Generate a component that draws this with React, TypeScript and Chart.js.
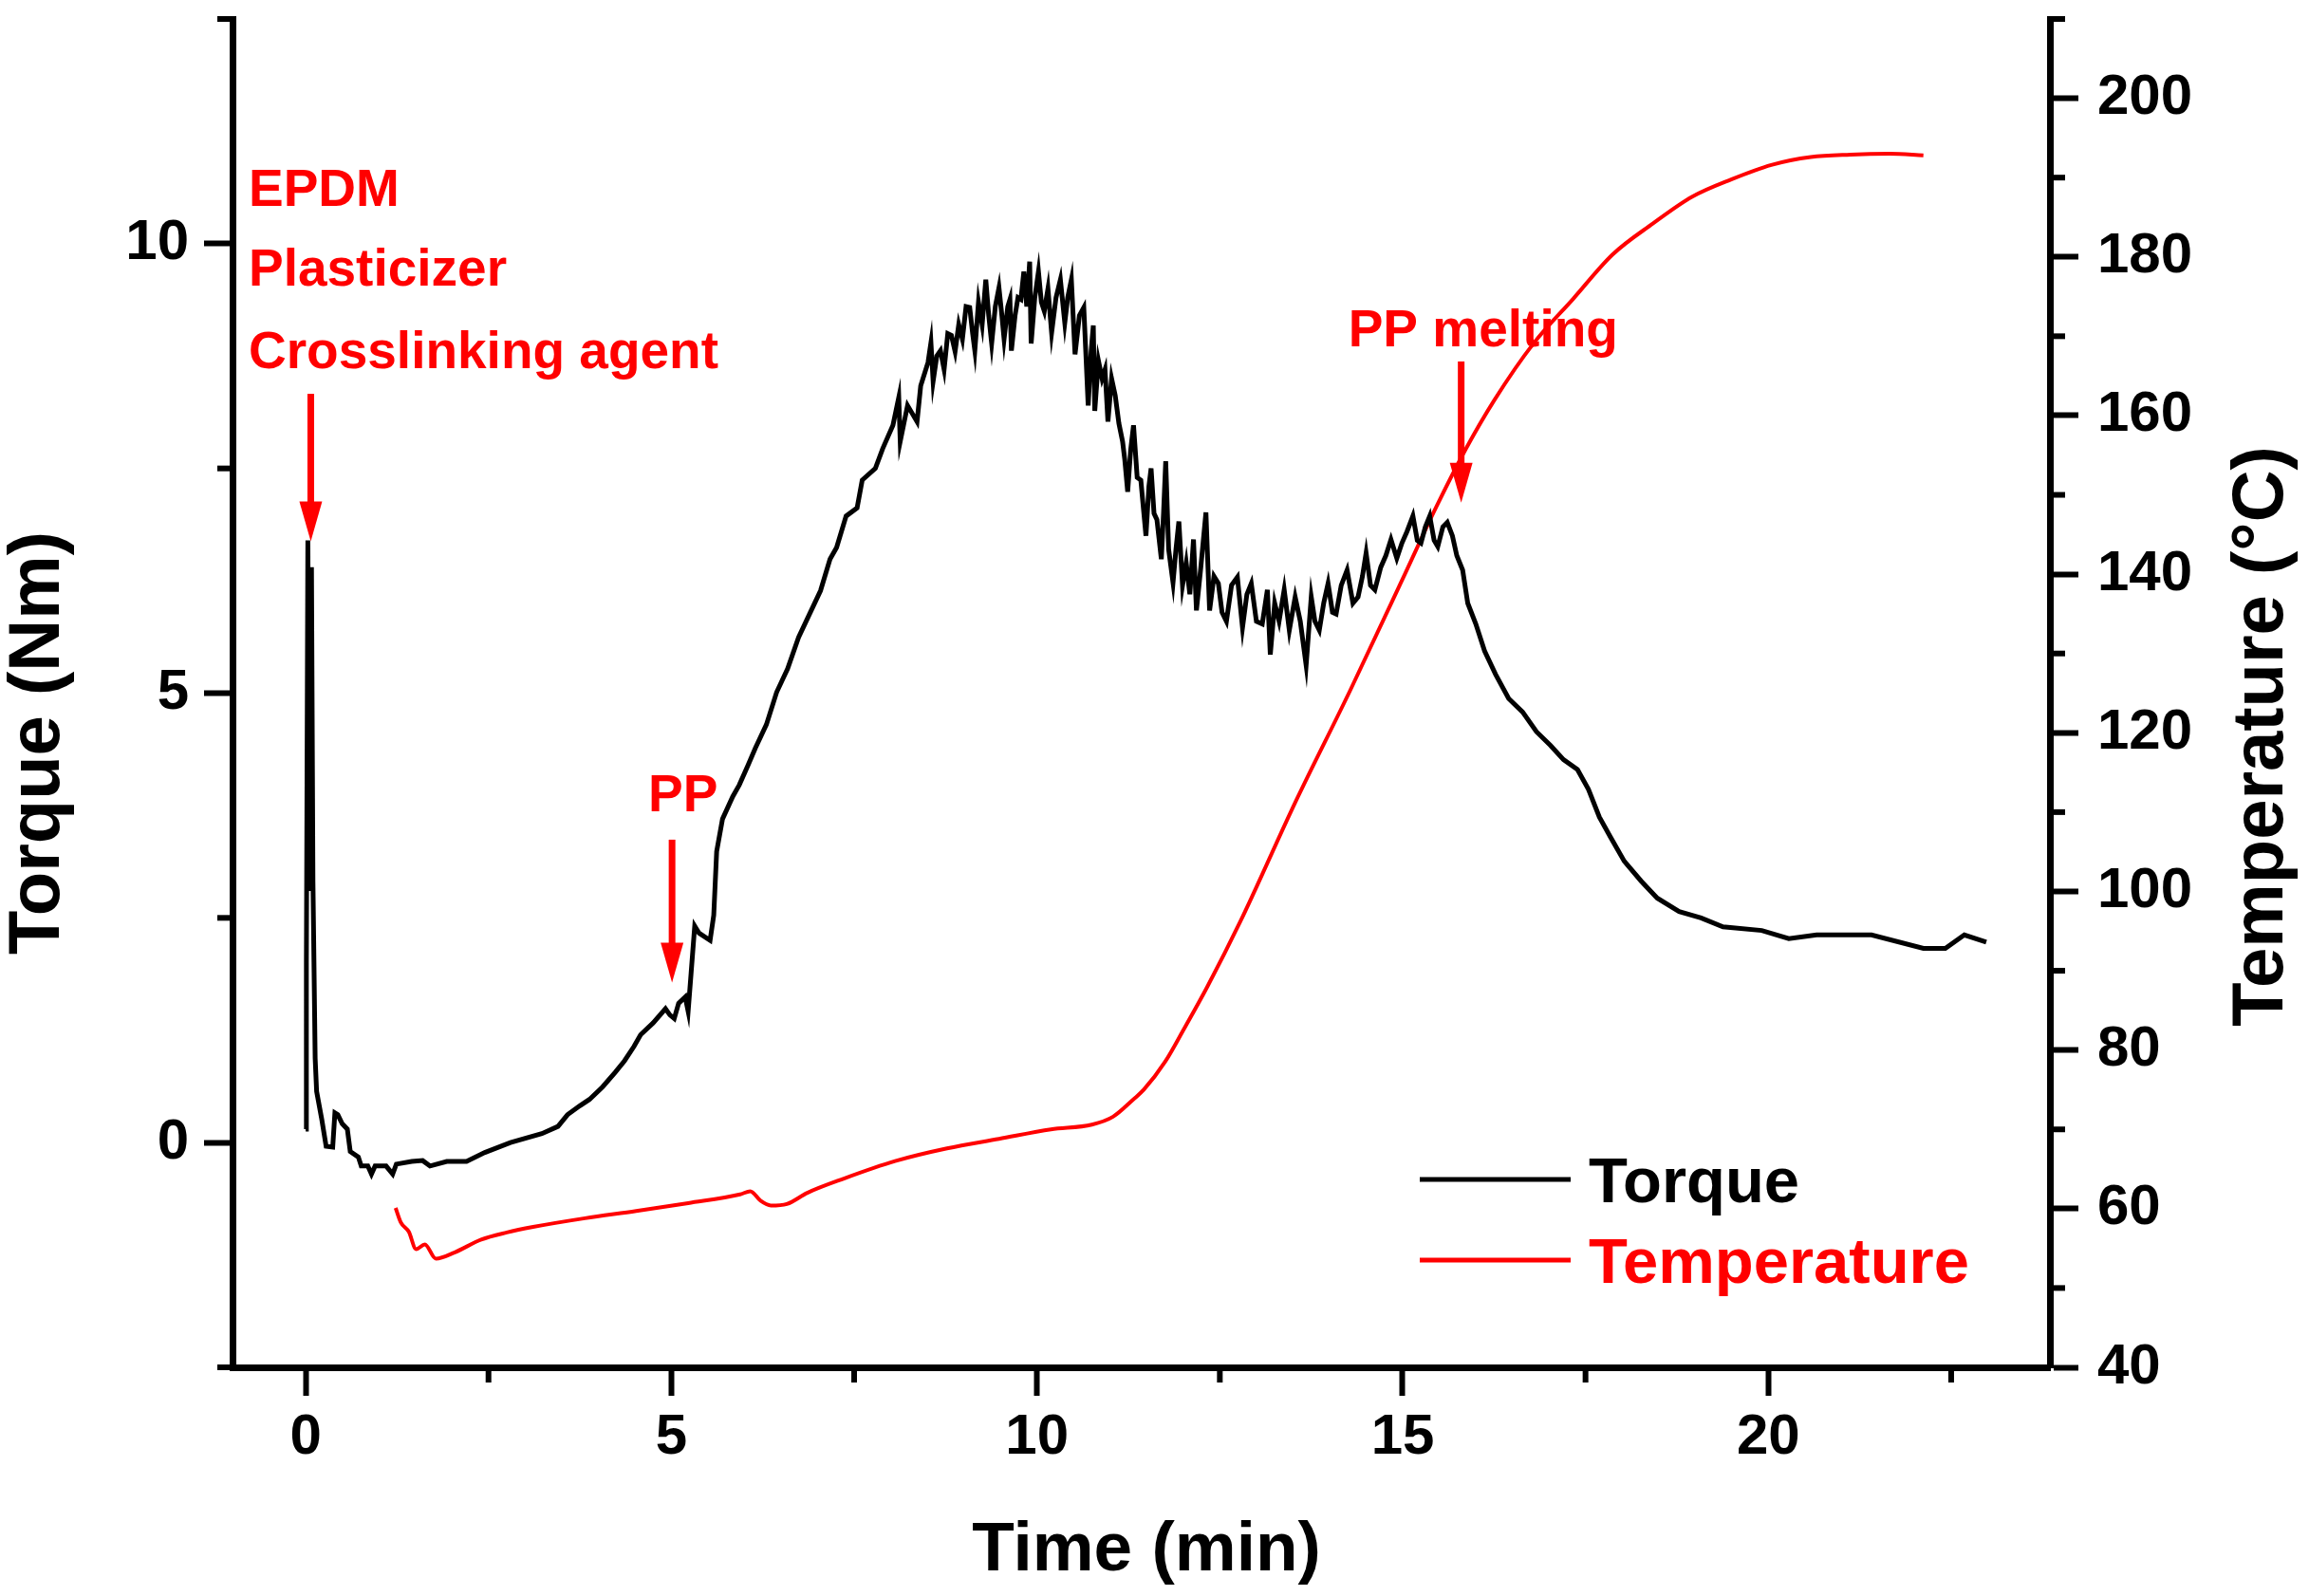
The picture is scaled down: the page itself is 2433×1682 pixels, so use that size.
import React, { useEffect, useRef } from "react";
import { Chart, registerables } from "chart.js";

Chart.register(...registerables);

// ---- data ----
const torqueTime = [
  0.0, 0.01, 0.03, 0.06, 0.08, 0.1, 0.13, 0.15, 0.22, 0.28,
  0.37, 0.4, 0.44, 0.5, 0.57, 0.61, 0.72, 0.76, 0.85, 0.9,
  0.95, 1.1, 1.19, 1.24, 1.45, 1.6, 1.7, 1.93, 2.2, 2.45,
  2.8, 3.23, 3.45, 3.58, 3.75, 3.88, 4.06, 4.23, 4.36, 4.49,
  4.58, 4.75, 4.92, 4.98, 5.04, 5.1, 5.19, 5.23, 5.27, 5.32,
  5.38, 5.53, 5.58, 5.62, 5.7, 5.84, 5.93, 6.05, 6.15, 6.3,
  6.44, 6.59, 6.74, 6.89, 7.04, 7.17, 7.26, 7.39, 7.54, 7.61,
  7.79, 7.89, 8.03, 8.11, 8.13, 8.23, 8.36, 8.41, 8.51, 8.55,
  8.58, 8.63, 8.68, 8.73, 8.78, 8.83, 8.88, 8.93, 8.98, 9.03,
  9.08, 9.12, 9.15, 9.2, 9.25, 9.3, 9.34, 9.38, 9.43, 9.48,
  9.52, 9.55, 9.6, 9.63, 9.65, 9.7, 9.74, 9.78, 9.82, 9.86,
  9.9, 9.92, 9.97, 10.02, 10.06, 10.1, 10.15, 10.2, 10.26, 10.32,
  10.38, 10.42, 10.47, 10.52, 10.58, 10.64, 10.7, 10.74, 10.77, 10.79,
  10.84, 10.89, 10.93, 10.97, 11.02, 11.07, 11.12, 11.17, 11.2, 11.24,
  11.28, 11.32, 11.37, 11.42, 11.45, 11.49, 11.53, 11.56, 11.6, 11.64,
  11.7, 11.73, 11.76, 11.8, 11.86, 11.9, 11.94, 11.99, 12.04, 12.09,
  12.14, 12.18, 12.24, 12.31, 12.36, 12.42, 12.48, 12.53, 12.59, 12.66,
  12.74, 12.81, 12.87, 12.93, 13.0, 13.08, 13.15, 13.19, 13.25, 13.31,
  13.38, 13.45, 13.53, 13.6, 13.68, 13.75, 13.8, 13.86, 13.92, 13.98,
  14.04, 14.09, 14.16, 14.24, 14.32, 14.39, 14.45, 14.5, 14.56, 14.62,
  14.7, 14.77, 14.84, 14.92, 14.99, 15.06, 15.14, 15.2, 15.25, 15.31,
  15.37, 15.43, 15.48, 15.55, 15.61, 15.68, 15.74, 15.82, 15.89, 16.0,
  16.12, 16.27, 16.45, 16.64, 16.83, 17.02, 17.2, 17.39, 17.54, 17.69,
  17.84, 18.03, 18.26, 18.48, 18.78, 19.08, 19.38, 19.91, 20.28, 20.66,
  21.41, 22.12, 22.42, 22.68, 22.98,
];
const torqueNm = [
  0.15, 2.0, 6.7, 2.8, 6.4, 2.9, 0.94, 0.57, 0.26, -0.04,
  -0.05, 0.33, 0.31, 0.21, 0.15, -0.1, -0.16, -0.26, -0.26, -0.35,
  -0.26, -0.26, -0.35, -0.24, -0.21, -0.2, -0.26, -0.21, -0.21, -0.11,
  0.0, 0.1, 0.18, 0.31, 0.41, 0.48, 0.62, 0.78, 0.91, 1.07,
  1.2, 1.33, 1.49, 1.42, 1.38, 1.55, 1.62, 1.46, 1.88, 2.41,
  2.33, 2.25, 2.53, 3.24, 3.6, 3.85, 3.98, 4.2, 4.39, 4.65,
  5.01, 5.27, 5.62, 5.88, 6.14, 6.49, 6.62, 6.97, 7.06, 7.37,
  7.5, 7.72, 7.98, 8.29, 7.8, 8.2, 8.02, 8.42, 8.68, 8.9,
  8.47, 8.75, 8.81, 8.6, 9.0, 8.98, 8.8, 9.1, 8.94, 9.3,
  9.29, 9.0, 8.81, 9.35, 9.1, 9.6, 9.2, 8.89, 9.3, 9.51,
  9.2, 8.94, 9.3, 9.38, 8.81, 9.2, 9.4, 9.38, 9.69, 9.3,
  9.8, 8.89, 9.4, 9.69, 9.35, 9.25, 9.5, 9.01, 9.4, 9.6,
  9.12, 9.4, 9.6, 8.77, 9.2, 9.29, 8.2, 8.8, 9.09, 8.14,
  8.7, 8.5, 8.6, 8.02, 8.5, 8.31, 8.0, 7.8, 7.6, 7.24,
  7.7, 7.98, 7.4, 7.37, 7.1, 6.75, 7.3, 7.5, 7.0, 6.93,
  6.49, 7.0, 7.58, 6.6, 6.23, 6.6, 6.91, 6.2, 6.45, 6.1,
  6.71, 5.92, 6.4, 7.01, 5.92, 6.3, 6.22, 5.9, 5.8, 6.2,
  6.29, 5.73, 6.1, 6.22, 5.8, 5.77, 6.15, 5.43, 6.0, 5.8,
  6.15, 5.7, 6.07, 5.8, 5.31, 6.07, 5.8, 5.7, 6.0, 6.22,
  5.9, 5.88, 6.2, 6.37, 6.0, 6.07, 6.3, 6.56, 6.2, 6.15,
  6.4, 6.53, 6.71, 6.5, 6.67, 6.8, 6.97, 6.7, 6.67, 6.85,
  6.97, 6.7, 6.63, 6.85, 6.9, 6.75, 6.53, 6.37, 6.0, 5.77,
  5.47, 5.21, 4.94, 4.79, 4.57, 4.42, 4.26, 4.15, 3.93, 3.62,
  3.4, 3.13, 2.91, 2.72, 2.57, 2.5, 2.4, 2.36, 2.27, 2.31,
  2.31, 2.16, 2.16, 2.31, 2.23,
];

const tempTime = [
  1.23, 1.3, 1.41, 1.51, 1.63, 1.78, 2.04, 2.4, 2.75, 3.11,
  3.82, 4.52, 5.23, 5.94, 6.08, 6.22, 6.36, 6.58, 6.86, 7.36,
  8.06, 8.77, 9.48, 10.19, 10.75, 11.04, 11.32, 11.46, 11.75, 12.0,
  12.33, 12.78, 13.53, 14.28, 15.03, 15.46, 15.87, 16.25, 16.79, 17.33,
  17.87, 18.42, 18.96, 19.5, 20.04, 20.58, 21.12, 21.66, 22.12,
];
const tempC = [
  60.1, 58.3, 57.1, 54.9, 55.5, 53.7, 54.5, 56.1, 57.0, 57.7,
  58.8, 59.7, 60.7, 61.8, 62.2, 61.0, 60.4, 60.6, 62.0, 63.8,
  66.0, 67.6, 68.8, 70.0, 70.6, 71.6, 73.8, 75.0, 78.5, 82.5,
  88.0, 96.2, 111.2, 125.3, 140.0, 148.5, 155.9, 161.9, 169.1, 174.7,
  180.3, 184.2, 187.6, 189.8, 191.6, 192.6, 192.9, 193.0, 192.8,
];

// tick values
const timeTicks = [0, 5, 10, 15, 20];
const timeMinorTicks = [2.5, 7.5, 12.5, 17.5, 22.5];
const torqueTicks = [0, 5, 10];
const torqueMinorTicks = [-2.5, 2.5, 7.5, 12.5];
const tempTicks = [40, 60, 80, 100, 120, 140, 160, 180, 200];
const tempMinorTicks = [50, 70, 90, 110, 130, 150, 170, 190, 210];

// annotations (time, torque)
const notes = [
  { text: "EPDM", t: -0.78, v: 10.42, align: "left" },
  { text: "Plasticizer", t: -0.78, v: 9.53, align: "left" },
  { text: "Crosslinking agent", t: -0.78, v: 8.62, align: "left" },
  { text: "PP", t: 5.16, v: 3.69, align: "center" },
  { text: "PP melting", t: 16.1, v: 8.86, align: "center" },
];
const arrows = [
  { t: 0.07, from: 8.33, to: 6.69 },
  { t: 5.01, from: 3.37, to: 1.78 },
  { t: 15.8, from: 8.69, to: 7.12 },
];

const FONT = '"Liberation Sans", Arial, Helvetica, sans-serif';
const RED = "#ff0000";

const overlay = {
  id: "overlay",
  afterDraw(chart: any) {
    const { ctx, chartArea, scales } = chart;
    const x = scales.x;
    const y = scales.y;
    const y1 = scales.y1;
    ctx.save();

    // minor ticks
    ctx.strokeStyle = "#000";
    ctx.lineWidth = 6;
    const minorLen = 16;
    timeMinorTicks.forEach((v) => {
      const px = x.getPixelForValue(v);
      ctx.beginPath();
      ctx.moveTo(px, chartArea.bottom);
      ctx.lineTo(px, chartArea.bottom + minorLen);
      ctx.stroke();
    });
    torqueMinorTicks.forEach((v) => {
      const py = y.getPixelForValue(v);
      ctx.beginPath();
      ctx.moveTo(chartArea.left, py);
      ctx.lineTo(chartArea.left - minorLen, py);
      ctx.stroke();
    });
    tempMinorTicks.forEach((v) => {
      const py = y1.getPixelForValue(v);
      ctx.beginPath();
      ctx.moveTo(chartArea.right, py);
      ctx.lineTo(chartArea.right + minorLen, py);
      ctx.stroke();
    });

    // annotation text
    ctx.fillStyle = RED;
    ctx.font = `bold 55px ${FONT}`;
    ctx.textBaseline = "alphabetic";
    notes.forEach((n) => {
      ctx.textAlign = n.align as CanvasTextAlign;
      ctx.fillText(n.text, x.getPixelForValue(n.t), y.getPixelForValue(n.v));
    });

    // arrows
    ctx.strokeStyle = RED;
    ctx.lineWidth = 7;
    arrows.forEach((a) => {
      const px = x.getPixelForValue(a.t);
      const top = y.getPixelForValue(a.from);
      const tip = y.getPixelForValue(a.to);
      const headLen = 42;
      ctx.beginPath();
      ctx.moveTo(px, top);
      ctx.lineTo(px, tip - headLen + 2);
      ctx.stroke();
      ctx.beginPath();
      ctx.moveTo(px - 12, tip - headLen);
      ctx.lineTo(px + 12, tip - headLen);
      ctx.lineTo(px, tip);
      ctx.closePath();
      ctx.fill();
    });

    // legend
    const items = chart.data.datasets;
    const legendY = [1243, 1328];
    items.forEach((ds: any, i: number) => {
      ctx.strokeStyle = ds.borderColor;
      ctx.lineWidth = 5;
      ctx.beginPath();
      ctx.moveTo(1496, legendY[i]);
      ctx.lineTo(1655, legendY[i]);
      ctx.stroke();
      ctx.fillStyle = ds.borderColor;
      ctx.font = `bold 67px ${FONT}`;
      ctx.textAlign = "left";
      ctx.fillText(ds.label, 1674, legendY[i] + 24);
    });

    // axis titles
    ctx.fillStyle = "#000";
    ctx.font = `bold 73px ${FONT}`;
    ctx.textAlign = "center";
    ctx.fillText("Time (min)", 1208, 1655);
    ctx.font = `bold 76px ${FONT}`;
    ctx.save();
    ctx.translate(62, 783);
    ctx.rotate(-Math.PI / 2);
    ctx.fillText("Torque (Nm)", 0, 0);
    ctx.restore();
    ctx.save();
    ctx.translate(2405, 776);
    ctx.rotate(-Math.PI / 2);
    ctx.fillText("Temperature (°C)", 0, 0);
    ctx.restore();

    ctx.restore();
  },
};

const tickFont = { family: FONT, size: 60, weight: "bold" as const };

const noPad = (s: any) => {
  s.paddingTop = 0;
  s.paddingBottom = 0;
  s.paddingLeft = 0;
  s.paddingRight = 0;
};

const gridOpts = {
  drawOnChartArea: false,
  drawTicks: true,
  tickLength: 30,
  tickWidth: 6,
  tickColor: "#000",
};
const borderOpts = { display: true, color: "#000", width: 7 };

const App = () => {
  const chartRef = useRef<HTMLCanvasElement>(null);

  useEffect(() => {
    if (!chartRef.current) return;
    const ctx = chartRef.current.getContext("2d");
    if (!ctx) return;

    const chart = new Chart(ctx, {
      type: "line",
      data: {
        datasets: [
          {
            label: "Torque",
            data: torqueTime.map((t, i) => ({ x: t, y: torqueNm[i] })),
            borderColor: "#000000",
            borderWidth: 5,
            pointRadius: 0,
            tension: 0,
            yAxisID: "y",
          },
          {
            label: "Temperature",
            data: tempTime.map((t, i) => ({ x: t, y: tempC[i] })),
            borderColor: RED,
            borderWidth: 4,
            pointRadius: 0,
            cubicInterpolationMode: "monotone",
            yAxisID: "y1",
          },
        ],
      },
      options: {
        responsive: false,
        devicePixelRatio: 1,
        animation: false,
        layout: { padding: { top: 20, left: 0, right: 0, bottom: 0 }, autoPadding: false },
        plugins: {
          legend: { display: false },
          tooltip: { enabled: false },
        },
        scales: {
          x: {
            type: "linear",
            position: "bottom",
            min: -1,
            max: 23.85,
            afterBuildTicks: (s: any) => {
              s.ticks = timeTicks.map((v) => ({ value: v }));
            },
            afterFit: (s: any) => {
              s.height = 241;
              noPad(s);
            },
            ticks: { font: tickFont, color: "#000", padding: 8, maxRotation: 0 },
            grid: gridOpts,
            border: borderOpts,
          },
          y: {
            type: "linear",
            position: "left",
            min: -2.5,
            max: 12.5,
            afterBuildTicks: (s: any) => {
              s.ticks = torqueTicks.map((v) => ({ value: v }));
            },
            afterFit: (s: any) => {
              s.width = 245;
              noPad(s);
            },
            ticks: { font: tickFont, color: "#000", padding: 16 },
            grid: gridOpts,
            border: borderOpts,
          },
          y1: {
            type: "linear",
            position: "right",
            min: 40,
            max: 210,
            afterBuildTicks: (s: any) => {
              s.ticks = tempTicks.map((v) => ({ value: v }));
            },
            afterFit: (s: any) => {
              s.width = 273;
              noPad(s);
            },
            ticks: { font: tickFont, color: "#000", padding: 20 },
            grid: gridOpts,
            border: borderOpts,
          },
        },
      },
      plugins: [overlay],
    });

    return () => {
      chart.destroy();
    };
  }, []);

  return (
    <div
      style={{
        position: "fixed",
        left: 0,
        top: 0,
        width: 2433,
        height: 1682,
        background: "#fff",
      }}
    >
      <canvas ref={chartRef} width={2433} height={1682} style={{ display: "block" }} />
    </div>
  );
};

export default App;
